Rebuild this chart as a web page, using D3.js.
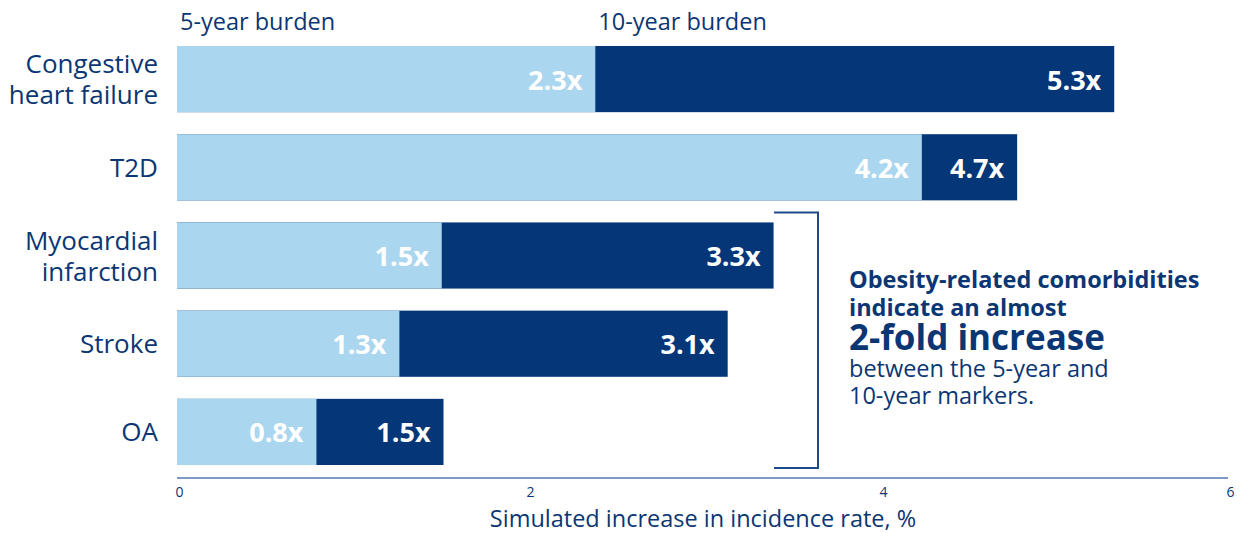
<!DOCTYPE html>
<html>
<head>
<meta charset="utf-8">
<script src="https://cdn.jsdelivr.net/npm/d3@7"></script>
<style>
  html, body { margin: 0; padding: 0; background: #fff; }
  svg { display: block; font-family: "Open Sans", "Noto Sans", sans-serif; }
</style>
</head>
<body>
<svg id="chart" width="1243" height="533"></svg>
<script>
// ---- data ----
const categories = ["Congestive\nheart failure", "T2D", "Myocardial\ninfarction", "Stroke", "OA"];
const fiveYear   = [2.37, 4.22, 1.50, 1.26, 0.79];
const tenYear    = [5.31, 4.76, 3.38, 3.12, 1.51];
const fiveLabels = ["2.3x", "4.2x", "1.5x", "1.3x", "0.8x"];
const tenLabels  = ["5.3x", "4.7x", "3.3x", "3.1x", "1.5x"];
const seriesNames = ["5-year burden", "10-year burden"];
const xTicks = [0, 2, 4, 6];
const axisTitle = "Simulated increase in incidence rate, %";
const noteLines = [
  {t: "Obesity-related comorbidities", cls: "b"},
  {t: "indicate an almost", cls: "b"},
  {t: "2-fold increase", cls: "big"},
  {t: "between the 5-year and", cls: "r"},
  {t: "10-year markers.", cls: "r"}
];

// ---- styles ----
const LIGHT = "#abd6f0", DARK = "#043678", TEXT = "#0b3674";

const svg = d3.select("#chart");
const x = d3.scaleLinear().domain([0, 6]).range([177, 1236]);
const y = d3.scaleBand().domain(categories).range([46, 465]).paddingInner(0.25).paddingOuter(0);

const rows = categories.map((c, i) => ({c, five: fiveYear[i], ten: tenYear[i], fl: fiveLabels[i], tl: tenLabels[i]}));

// 10-year bars (full length), then 5-year bars on top
svg.append("g").selectAll("rect").data(rows).join("rect")
  .attr("x", x(0)).attr("y", d => y(d.c))
  .attr("width", d => x(d.ten) - x(0)).attr("height", y.bandwidth())
  .attr("fill", DARK);
svg.append("g").selectAll("rect").data(rows).join("rect")
  .attr("x", x(0)).attr("y", d => y(d.c))
  .attr("width", d => x(d.five) - x(0)).attr("height", y.bandwidth())
  .attr("fill", LIGHT);

// value labels
const vl = svg.append("g").attr("fill", "#fff").attr("font-weight", 700).attr("font-size", 27).attr("text-anchor", "end");
vl.selectAll("text.f").data(rows).join("text").attr("class", "f")
  .attr("x", d => x(d.five) - 13).attr("y", d => y(d.c) + y.bandwidth() / 2 + 10.5).text(d => d.fl);
vl.selectAll("text.t").data(rows).join("text").attr("class", "t")
  .attr("x", d => x(d.ten) - 13).attr("y", d => y(d.c) + y.bandwidth() / 2 + 10.5).text(d => d.tl);

// category labels
const cl = svg.append("g").attr("fill", TEXT).attr("font-size", 26).attr("text-anchor", "end");
rows.forEach(d => {
  const lines = d.c.split("\n");
  const lh = 31;
  const cy = y(d.c) + y.bandwidth() / 2;
  const t = cl.append("text").attr("x", 158);
  lines.forEach((ln, k) => {
    t.append("tspan").attr("x", 158)
      .attr("y", cy + 9.5 + (k - (lines.length - 1) / 2) * lh).text(ln);
  });
});

// series headers
const hdr = svg.append("g").attr("fill", TEXT).attr("font-size", 23.5);
hdr.append("text").attr("x", x(0) + 3).attr("y", 30).text(seriesNames[0]);
hdr.append("text").attr("x", x(rows[0].five) + 3).attr("y", 30).text(seriesNames[1]);

// x axis
const axis = svg.append("g").attr("transform", "translate(0,478)")
  .call(d3.axisBottom(x).tickValues(xTicks).tickSize(0).tickPadding(9).tickFormat(d3.format("d")));
axis.select(".domain").attr("stroke", "#7f9ac2").attr("stroke-width", 2).attr("d", "M177,0H1228");
axis.selectAll("text").attr("fill", TEXT).attr("font-size", 14).attr("font-family", "Open Sans, sans-serif");
axis.selectAll(".tick").filter(d => d === 0).select("text").attr("dx", 2);
axis.selectAll(".tick").filter(d => d === 6).select("text").attr("dx", -6);

svg.append("text").attr("x", 703).attr("y", 527).attr("text-anchor", "middle")
  .attr("fill", TEXT).attr("font-size", 23.5).text(axisTitle);

// bracket around MI / Stroke / OA
const bTop = y(categories[2]) - 10, bBot = y(categories[4]) + y.bandwidth() + 3;
svg.append("path")
  .attr("d", `M774,${bTop}H818V${bBot}H774`)
  .attr("fill", "none").attr("stroke", "#1d4a88").attr("stroke-width", 2);

// annotation
const note = svg.append("text").attr("x", 849).attr("fill", TEXT);
const ys = [288, 316, 350, 377, 404];
noteLines.forEach((l, i) => {
  const ts = note.append("tspan").attr("x", 849).attr("y", ys[i]).text(l.t);
  if (l.cls === "b") ts.attr("font-weight", 700).attr("font-size", 23.5);
  else if (l.cls === "big") ts.attr("font-weight", 700).attr("font-size", 35);
  else ts.attr("font-size", 23.5);
});
</script>
</body>
</html>
